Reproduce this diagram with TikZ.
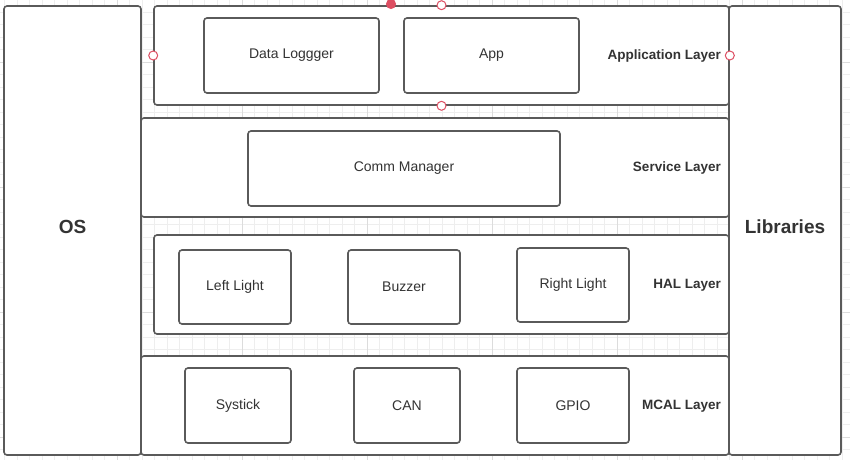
\documentclass[tikz,border=0pt]{standalone}
\usepackage{fontspec}
\setmainfont{Liberation Sans}
\definecolor{boxgray}{HTML}{5A5A5A}
\definecolor{textgray}{HTML}{333333}
\definecolor{gridminor}{HTML}{EEEEEE}
\definecolor{gridmajor}{HTML}{DCDCDC}
\definecolor{handlered}{HTML}{DD4E62}
\tikzset{
  layerbox/.style={draw=boxgray,line width=1.6pt,rounded corners=3pt,fill=white,inner sep=0pt},
  partbox/.style={layerbox,text=textgray,font=\fontsize{14}{16}\selectfont},
  sidebox/.style={layerbox,text=textgray,font=\fontsize{19}{22}\selectfont\bfseries},
  layerlabel/.style={anchor=east,inner sep=0pt,text=textgray,font=\fontsize{13.5}{16}\selectfont\bfseries},
  handle/.style={circle,draw=handlered,line width=1pt,fill=white,minimum size=9pt,inner sep=0pt}
}
\begin{document}
\begin{tikzpicture}[x=1pt,y=-1pt]
  \useasboundingbox[fill=white] (0,0) rectangle (850,460);
  \foreach \i in {0,...,68} \draw[gridminor,line width=0.8pt] ({4.5+12.5*\i},0) -- ++(0,460);
  \foreach \j in {0,...,36} \draw[gridminor,line width=0.8pt] (0,{-0.5+12.5*\j}) -- ++(850,0);
  \foreach \i in {-8,117,242,367,492,617,742} \draw[gridmajor,line width=1pt] (\i,0) -- ++(0,460);
  \foreach \j in {62,187,312,437} \draw[gridmajor,line width=1pt] (0,\j) -- ++(850,0);

  \node[layerbox,minimum width=575,minimum height=99] (applayer) at (441.5,55.5) {};
  \node[layerbox,minimum width=588,minimum height=99] (srvlayer) at (435,167.5) {};
  \node[layerbox,minimum width=575,minimum height=99] (hallayer) at (441.5,284.5) {};
  \node[layerbox,minimum width=588,minimum height=99] (mcallayer) at (435,405.5) {};

  \node[sidebox,minimum width=137,minimum height=449] (os) at (72.5,230.5) {\raisebox{8pt}{OS}};
  \node[sidebox,minimum width=112,minimum height=449] (libs) at (785,230.5) {\raisebox{8pt}{Libraries}};

  \node[partbox,minimum width=175,minimum height=75] (logger) at (291.5,55.5) {Data Loggger};
  \node[partbox,minimum width=175,minimum height=75] (app) at (491.5,55.5) {App};
  \node[partbox,minimum width=312,minimum height=75] (comm) at (404,168.5) {Comm Manager};
  \node[partbox,minimum width=112,minimum height=74] (leftlight) at (235,287) {Left Light};
  \node[partbox,minimum width=112,minimum height=74] (buzzer) at (404,287) {Buzzer};
  \node[partbox,minimum width=112,minimum height=74] (rightlight) at (573,285) {Right Light};
  \node[partbox,minimum width=106,minimum height=75] (systick) at (238,405.5) {Systick};
  \node[partbox,minimum width=106,minimum height=75] (can) at (407,405.5) {CAN};
  \node[partbox,minimum width=112,minimum height=75] (gpio) at (573,405.5) {GPIO};

  \node[layerlabel] (applbl) at (721,56) {Application Layer};
  \node[layerlabel] (srvlbl) at (721,168) {Service Layer};
  \node[layerlabel] (hallbl) at (721,285) {HAL Layer};
  \node[layerlabel] (mcallbl) at (721,406) {MCAL Layer};

  \node[handle] (hwest) at (applayer.west) {};
  \node[handle] (heast) at (applayer.east) {};
  \node[handle] (hnorth) at (applayer.north) {};
  \node[handle] (hsouth) at (applayer.south) {};
  \node[handle,fill=handlered] (hrotate) at (391,4) {};
\end{tikzpicture}
\end{document}
